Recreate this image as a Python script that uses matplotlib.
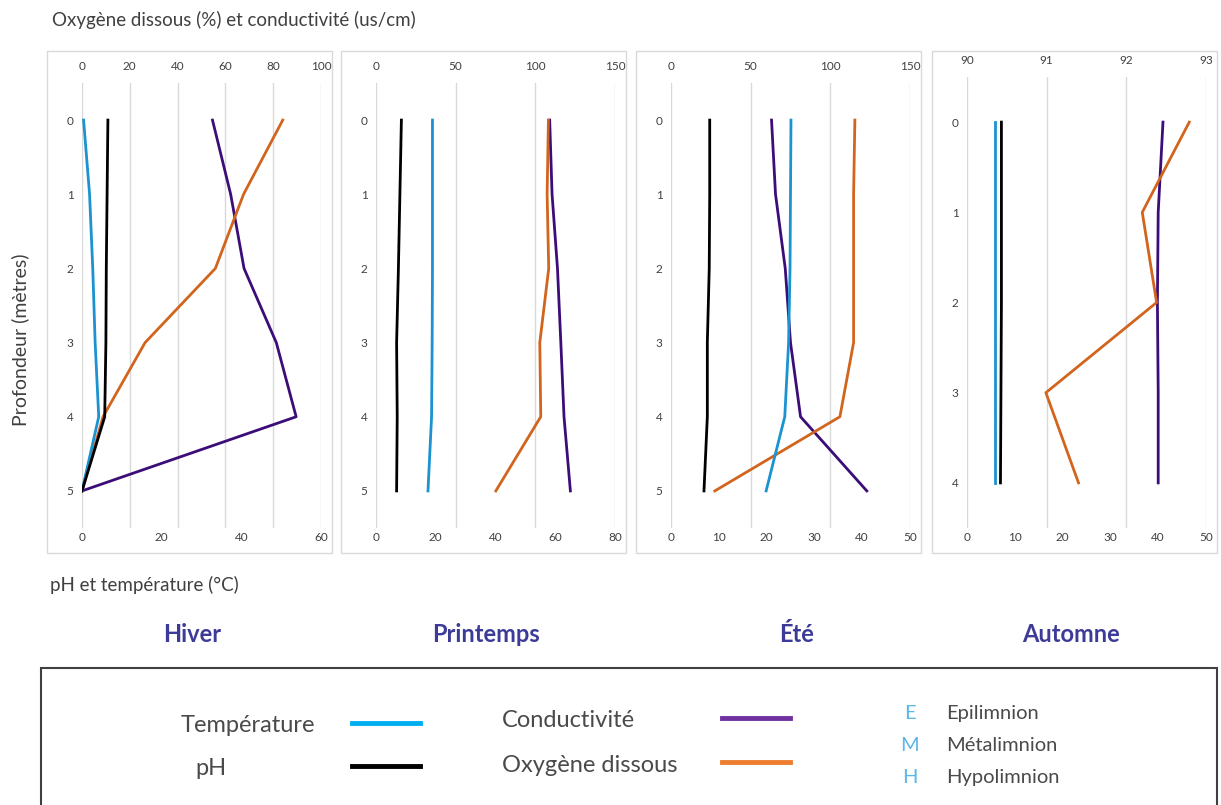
import matplotlib.pyplot as plt
from matplotlib.patches import Rectangle
from matplotlib.lines import Line2D

plt.rcParams['font.family'] = ['Lato', 'DejaVu Sans']

# data
saisons = ['Hiver', 'Printemps', 'Été', 'Automne']
profondeurs = [[0, 1, 2, 3, 4, 5], [0, 1, 2, 3, 4, 5], [0, 1, 2, 3, 4, 5], [0, 1, 2, 3, 4]]

temperature = [
    [0.4, 1.9, 2.7, 3.3, 4.2, 0],
    [18.9, 18.9, 18.9, 18.8, 18.6, 17.4],
    [25.1, 25.0, 24.9, 24.6, 23.8, 19.9],
    [5.9, 5.9, 5.9, 5.9, 5.9],
]
ph = [
    [6.5, 6.3, 6.1, 6.0, 5.7, 0],
    [8.5, 8.0, 7.5, 6.9, 7.1, 6.9],
    [8.1, 8.1, 8.0, 7.6, 7.6, 6.9],
    [7.2, 7.2, 7.2, 7.1, 7.0],
]
conductivite = [
    [54.6, 62.2, 67.8, 81.3, 89.6, 0],
    [109, 110.5, 113.9, 116, 118, 122],
    [63.1, 65.6, 71.7, 75, 81.3, 122.9],
    [92.46, 92.40, 92.39, 92.40, 92.40],
]
oxygene = [
    [84, 67.6, 55.8, 26.4, 8.8, 0],
    [108.2, 107.4, 108.4, 102.8, 103.4, 75.2],
    [115.4, 114.6, 114.6, 114.6, 106, 27.5],
    [92.79, 92.20, 92.38, 90.99, 91.40],
]

haut_lim = [(0, 100), (0, 150), (0, 150), (90, 93)]
haut_ticks = [range(0, 101, 20), range(0, 151, 50), range(0, 151, 50), range(90, 94)]
bas_lim = [(0, 60), (0, 80), (0, 50), (0, 50)]
bas_ticks = [range(0, 61, 20), range(0, 81, 20), range(0, 51, 10), range(0, 51, 10)]

c_temp = '#1b93d0'
c_ph = '#000000'
c_cond = '#3c0d78'
c_oxy = '#d2651e'
gris = '#404040'

W, H = 1221, 805
fig = plt.figure(figsize=(W / 100, H / 100), dpi=100)


def fx(px):
    return px / W


def fy(py):
    return 1 - py / H


lefts = [82, 376, 671, 967]
ax_w = 239
for i in range(4):
    x0 = lefts[i]
    top_px = 83 if i < 3 else 77
    # panel frame
    fig.patches.append(Rectangle((fx(x0 - 35), fy(553)), fx(285), (553 - 51) / H,
                                 transform=fig.transFigure, fill=False,
                                 edgecolor='#d9d9d9', linewidth=1))
    ax = fig.add_axes([fx(x0), fy(528), fx(ax_w), (528 - top_px) / H])
    axt = ax.twiny()
    ax.set_zorder(2)
    ax.patch.set_visible(False)
    axt.set_zorder(1)

    d = profondeurs[i]
    ax.plot(temperature[i], d, color=c_temp, lw=2)
    ax.plot(ph[i], d, color=c_ph, lw=2)
    axt.plot(conductivite[i], d, color=c_cond, lw=2)
    axt.plot(oxygene[i], d, color=c_oxy, lw=2)

    nmax = d[-1]
    ax.set_ylim(nmax + 0.5, -0.5)
    ax.set_yticks(d)
    ax.set_xlim(*bas_lim[i])
    ax.set_xticks(list(bas_ticks[i]))
    axt.set_xlim(*haut_lim[i])
    axt.set_xticks(list(haut_ticks[i]))
    axt.grid(axis='x', color='#d9d9d9', lw=1)

    for a in (ax, axt):
        for s in a.spines.values():
            s.set_visible(False)
    ax.tick_params(axis='x', length=0, pad=3, labelsize=8.5, labelcolor=gris)
    ax.tick_params(axis='y', length=0, pad=6, labelsize=8.5, labelcolor=gris)
    axt.tick_params(axis='x', length=0, pad=8, labelsize=8.5, labelcolor=gris)

    fig.text(fx([192, 486, 797, 1071][i]), fy(634), saisons[i], ha='center', va='center',
             fontsize=17, fontweight='bold', color='#3d3b98')

fig.text(fx(52), fy(20), 'Oxygène dissous (%) et conductivité (us/cm)', ha='left',
         va='center', fontsize=13.5, color=gris)
fig.text(fx(50), fy(585), 'pH et température (°C)', ha='left', va='center',
         fontsize=13.5, color=gris)
fig.text(fx(20), fy(340), 'Profondeur (mètres)', ha='center', va='center',
         rotation=90, fontsize=14, color=gris)

# legend box
fig.patches.append(Rectangle((fx(41), fy(815)), fx(1176), (815 - 668) / H,
                             transform=fig.transFigure, fill=False,
                             edgecolor='#404040', linewidth=1.5))

leg_txt = '#4a4a4a'
fig.text(fx(315), fy(726), 'Température', ha='right', va='center', fontsize=17,
         color=leg_txt)
fig.text(fx(195), fy(768), 'pH', ha='left', va='center', fontsize=17, color=leg_txt)
fig.text(fx(502), fy(720), 'Conductivité', ha='left', va='center', fontsize=17,
         color=leg_txt)
fig.text(fx(502), fy(765), 'Oxygène dissous', ha='left', va='center', fontsize=17,
         color=leg_txt)
for xa, xb, yy, c in [(352, 420, 723, '#00aeef'), (352, 420, 766, '#000000'),
                      (722, 790, 718, '#7030a0'), (722, 790, 762, '#ed7d31')]:
    fig.add_artist(Line2D([fx(xa), fx(xb)], [fy(yy), fy(yy)], color=c, lw=3.5,
                          transform=fig.transFigure))

for lettre, nom, yy in [('E', 'Epilimnion', 713), ('M', 'Métalimnion', 745),
                        ('H', 'Hypolimnion', 777)]:
    fig.text(fx(910), fy(yy), lettre, ha='center', va='center', fontsize=14.5,
             color='#5bb8e8')
    fig.text(fx(946), fy(yy), nom, ha='left', va='center', fontsize=14.5,
             color=leg_txt)

fig.savefig('out.png', dpi=100)
